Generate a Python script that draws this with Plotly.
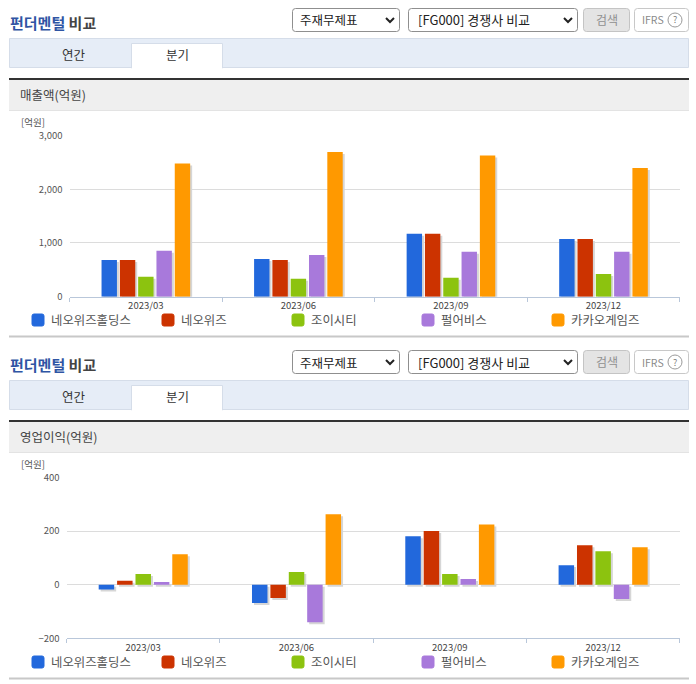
import plotly.graph_objects as go

W = 696
H = 684
FONT = 'Noto Sans CJK KR'

quarters = ['2023/03', '2023/06', '2023/09', '2023/12']
companies = ['네오위즈홀딩스', '네오위즈', '조이시티', '펄어비스', '카카오게임즈']
colors = ['#2268dc', '#cc3300', '#8cc30f', '#a879db', '#ff9900']

sales = [
    [683, 702, 1173, 1074],
    [683, 683, 1173, 1074],
    [372, 335, 354, 423],
    [857, 776, 838, 838],
    [2477, 2695, 2626, 2396],
]
profit = [
    [-18, -68, 181, 73],
    [15, -50, 200, 147],
    [40, 47, 40, 125],
    [10, -140, 21, -53],
    [114, 263, 225, 140],
]
sales_ticks = [0, 1000, 2000, 3000]
profit_ticks = [-200, 0, 200, 400]


def px(x):
    return x / W


def py(y):
    return 1 - y / H


shapes = []
notes = []


def rect(x0, y0, x1, y1, fill, line=None):
    shapes.append(dict(type='rect', xref='paper', yref='paper', x0=px(x0), x1=px(x1), y0=py(y0), y1=py(y1),
                       fillcolor=fill, line=dict(color=line or fill, width=1 if line else 0), layer='below'))


def round_rect(x0, y0, x1, y1, fill, line, r=3):
    path = (f'M {px(x0 + r)} {py(y0)} L {px(x1 - r)} {py(y0)} Q {px(x1)} {py(y0)} {px(x1)} {py(y0 + r)} '
            f'L {px(x1)} {py(y1 - r)} Q {px(x1)} {py(y1)} {px(x1 - r)} {py(y1)} '
            f'L {px(x0 + r)} {py(y1)} Q {px(x0)} {py(y1)} {px(x0)} {py(y1 - r)} '
            f'L {px(x0)} {py(y0 + r)} Q {px(x0)} {py(y0)} {px(x0 + r)} {py(y0)} Z')
    shapes.append(dict(type='path', xref='paper', yref='paper', path=path, fillcolor=fill,
                       line=dict(color=line, width=1), layer='below'))


def text(x, y, s, size=12, color='#333333', anchor='left'):
    notes.append(dict(xref='paper', yref='paper', x=px(x), y=py(y), text=s, showarrow=False, xanchor=anchor,
                      yanchor='middle', font=dict(size=size, color=color, family=FONT), borderpad=0))


def chevron(x, y):
    path = f'M {px(x - 4)} {py(y - 2)} L {px(x)} {py(y + 2)} L {px(x + 4)} {py(y - 2)}'
    shapes.append(dict(type='path', xref='paper', yref='paper', path=path, line=dict(color='#222222', width=2)))


def panel(top, title, bottom):
    # top is the offset of the block, title is the grey header text, bottom the closing rule
    text(9, top + 23, '<b><span style="color:#2f55a4">펀더멘털</span> 비교</b>', 15, '#444444')
    round_rect(292.5, top + 8.5, 399.5, top + 31.5, '#ffffff', '#8f8f8f')
    text(298.5, top + 20, '주재무제표', 12.5, '#222222')
    chevron(390, top + 20)
    round_rect(408.5, top + 8.5, 577.5, top + 31.5, '#ffffff', '#8f8f8f')
    text(416.5, top + 20, '[FG000] 경쟁사 비교', 13, '#222222')
    chevron(568, top + 20)
    round_rect(583.5, top + 8.5, 629.5, top + 31.5, '#e4e4e4', '#c4c4c4')
    text(606.5, top + 19, '검색', 12, '#909090', 'center')
    round_rect(634.5, top + 8.5, 688.5, top + 31.5, '#ffffff', '#c8c8c8')
    text(640.5, top + 20, 'IFRS', 10.5, '#8a8a8a')
    shapes.append(dict(type='circle', xref='paper', yref='paper', x0=px(668), x1=px(682), y0=py(top + 13), y1=py(top + 27),
                       line=dict(color='#9a9a9a', width=1)))
    text(675, top + 20, '?', 9, '#808080', 'center')

    rect(9.5, top + 38.5, 688.5, top + 67.5, '#e6edf7', '#d5dde9')
    rect(131.5, top + 43.5, 222.5, top + 68, '#ffffff', '#d5dde9')
    rect(132, top + 66, 222, top + 69, '#ffffff')
    text(74, top + 54, '연간', 12.5, '#333333', 'center')
    text(177, top + 54.5, '분기', 12.5, '#333333', 'center')

    rect(9, top + 80, 689, top + 110, '#efefef')
    rect(9, top + 78, 689, top + 80, '#333333')
    rect(9, top + 110, 689, top + 111, '#e3e3e3')
    text(18.5, top + 95, title, 12.5, '#444444')
    text(19.5, top + 122, '[억원]', 9.5, '#555555')

    for i, name in enumerate(companies):
        x = 32 + 130 * i
        round_rect(x, top + 314, x + 12, top + 326, colors[i], colors[i], 2)
        text(x + 17.5, top + 320, name, 12.4, '#555555')
    rect(9, bottom, 689, bottom + 2, '#c8c8c8')


panel(0, '매출액(억원)', 335.5)
panel(342, '영업이익(억원)', 677.5)

fig = go.Figure()

charts = [
    (sales, 'x', 'y', 37),
    (profit, 'x2', 'y2', 7.4),
]
for values, xa, ya, drop in charts:
    for i, name in enumerate(companies):
        # grey drop shadow first, the bar itself goes on top
        fig.add_trace(go.Bar(x=quarters, y=values[i], base=-drop, xaxis=xa, yaxis=ya, width=0.101,
                             offset=-0.29 + 0.12 * i + 0.013, marker=dict(color='#d6d6d6', line=dict(width=0)),
                             showlegend=False, hoverinfo='skip'))
        fig.add_trace(go.Bar(x=quarters, y=values[i], name=name, xaxis=xa, yaxis=ya, width=0.101,
                             offset=-0.29 + 0.12 * i, marker=dict(color=colors[i], line=dict(width=0)),
                             showlegend=False))

x_style = dict(type='category', tickson='boundaries', ticks='outside', ticklen=4, tickcolor='#b9c7da', showline=True,
               linecolor='#b9c7da', linewidth=1, showgrid=False, zeroline=False,
               tickfont=dict(size=9.5, color='#444444', family=FONT))
y_style = dict(showgrid=True, gridcolor='#dcdcdc', gridwidth=1, zeroline=False, showline=False, ticks='',
               tickformat=',d', tickfont=dict(size=9.5, color='#555555', family=FONT), ticklabelstandoff=6)

fig.update_layout(
    width=W,
    height=H,
    margin=dict(l=0, r=0, t=0, b=0, pad=0, autoexpand=False),
    paper_bgcolor='#ffffff',
    plot_bgcolor='#ffffff',
    barmode='overlay',
    showlegend=False,
    font=dict(family=FONT),
    shapes=shapes,
    annotations=notes,
    xaxis=dict(domain=[px(69.5), px(679.7)], anchor='y', **x_style),
    yaxis=dict(domain=[py(296.7), py(135.5)], anchor='x', range=[0, 3000], tickvals=sales_ticks, **y_style),
    xaxis2=dict(domain=[px(66.5), px(679.7)], anchor='y2', **x_style),
    yaxis2=dict(domain=[py(638.3), py(477.5)], anchor='x2', range=[-200, 400], tickvals=profit_ticks, **y_style),
)

# the page's default body margin would push the figure off the window
fig.write_html("out.html", config={'displayModeBar': False}, post_script="document.body.style.margin='0';")
